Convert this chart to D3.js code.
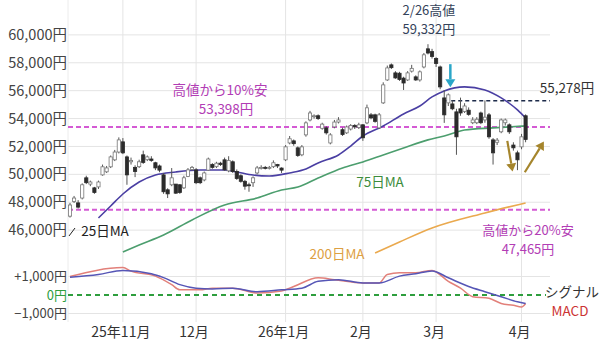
<!DOCTYPE html>
<html>
<head>
<meta charset="utf-8">
<script src="https://cdn.jsdelivr.net/npm/d3@7"></script>
<style>
  body { margin: 0; background: #fff; }
  svg { font-family: "Noto Sans CJK JP", "Noto Sans", sans-serif; }
</style>
</head>
<body>
<svg id="chart" width="600" height="343"></svg>
<script>
// trading days shown on the chart (Oct 2025 - Apr 2026)
const dates = [
  "10/15","10/16","10/17","10/20","10/21","10/22","10/23","10/24","10/27","10/28","10/29","10/30","10/31",
  "11/04","11/05","11/06","11/07","11/10","11/11","11/12","11/13","11/14","11/17","11/18","11/19","11/20","11/21","11/25","11/26","11/27","11/28",
  "12/01","12/02","12/03","12/04","12/05","12/08","12/09","12/10","12/11","12/12","12/15","12/16","12/17","12/18","12/19","12/22","12/23","12/24","12/25","12/26","12/29","12/30",
  "01/05","01/06","01/07","01/08","01/09","01/13","01/14","01/15","01/16","01/19","01/20","01/21","01/22","01/23","01/26","01/27","01/28","01/29","01/30",
  "02/02","02/03","02/04","02/05","02/06","02/09","02/10","02/12","02/13","02/16","02/17","02/18","02/19","02/20","02/24","02/25","02/26","02/27",
  "03/02","03/03","03/04","03/05","03/06","03/09","03/10","03/11","03/12","03/13","03/16","03/17","03/18","03/19","03/23","03/24","03/25","03/26","03/27","03/30","03/31",
  "04/01","04/02"
];

const open = [
  47000,48050,47950,48300,49750,49300,49030,49100,49960,50180,50540,51040,51600,
  52330,51250,50900,50500,50550,51400,51050,51100,50830,50600,49960,48890,49250,49300,49250,49030,49850,50350,
  50320,49750,49600,50300,50700,50550,50800,51040,50250,50900,50200,49900,49500,49250,49400,50100,50450,50500,50450,50550,50700,50450,
  51040,52250,52400,51900,51400,52830,53900,54150,54200,53300,53330,52250,53400,53750,53200,52975,53250,53500,53350,
  53550,53690,54265,54265,53330,55125,56770,57850,57275,57250,56900,56770,57400,56990,56770,57700,59000,58800,
  58300,57700,55480,55125,55050,54480,54700,54500,54600,53700,53700,54400,53900,54265,52470,52300,53050,53700,53550,52100,51540,
  51970,54200
];
const high = [
  47950,48450,48150,49350,49900,49550,49100,49550,50700,50600,51350,51750,52650,
  52600,51350,51200,50650,51050,51700,51350,51300,50900,50700,50100,49000,50450,49300,49300,49900,50450,50600,
  50450,49850,50200,51200,50800,50900,50900,51200,51300,51000,50350,50000,49600,49400,49850,50600,50650,50600,50600,51000,50750,50500,
  52100,52750,52500,52000,52100,53800,54550,54300,54300,53700,53450,52950,53900,54100,53350,53500,53600,53600,53700,
  53600,55000,54400,54350,54400,56600,57800,57950,57400,57350,57000,57400,57850,57100,57450,58700,59332,59000,
  58400,57800,56050,55800,55300,54700,55500,55100,54800,54100,54100,54500,55300,54400,52600,52600,54000,54000,53650,52300,51700,
  52900,54300
];
const low = [
  46900,47950,47550,48200,49300,49150,48600,48950,49900,50100,50450,50950,51500,
  51450,49250,50700,49800,50450,50750,50950,50900,50300,50150,48600,48300,49150,48600,48600,48950,49800,50250,
  49300,49300,49500,50250,50400,50450,50600,50250,50150,50100,49600,49400,48900,48750,49100,50000,50350,50350,50350,50450,50450,50100,
  50950,52150,52050,51250,51300,52700,53800,54000,53900,53200,52850,52150,53300,53650,52750,52900,53150,53250,53250,
  52400,53600,53950,53700,53250,55050,56700,57550,56850,56700,56050,56700,57300,56700,56650,57600,58600,58300,
  57700,56100,53690,54900,54600,51400,54200,54400,54200,53600,53600,53600,53700,52550,50700,52100,52950,53500,52900,51700,50300,
  51800,52300
];
const close = [
  47800,48300,47650,49250,49400,49450,48700,49450,50540,50460,51250,51600,52470,
  51540,49960,51000,50200,50900,50850,51250,51000,50460,50300,48750,48600,49750,48650,48700,49750,50320,50500,
  49400,49400,50100,51100,50500,50800,50700,50320,51000,50200,49700,49500,49150,49200,49750,50460,50500,50450,50500,50830,50600,50300,
  51970,52550,52200,51350,51970,53690,54400,54200,54000,53600,52975,52830,53750,53900,52850,53400,53500,53400,53550,
  52620,54770,54050,53800,54265,56415,57630,57650,56915,56800,56550,57275,57600,56770,57350,58570,58700,58450,
  57950,56270,54265,55700,54700,52690,54400,54900,54300,53900,53950,53700,54100,52690,51540,52450,53900,53900,53050,51900,51040,
  52690,52500
];

// moving averages
const ma25 = [
  ["10/24",46870],["10/29",47730],["11/04",48590],["11/10",49450],["11/14",49950],["11/21",50170],
  ["12/02",50310],["12/10",50310],["12/15",50170],["12/19",49950],["12/25",49880],["01/06",50100],
  ["01/13",50380],["01/16",50820],["01/23",51390],["01/28",52030],["02/02",52750],["02/09",53470],
  ["02/17",54330],["02/24",54900],["02/27",55550],["03/04",55980],["03/11",56270],["03/18",56050],
  ["03/25",55480],["03/31",54620],["04/02",54040]
];
const ma75 = [
  ["11/04",44430],["11/10",44930],["11/18",45650],["11/28",46730],["12/10",47800],["12/22",48300],
  ["12/30",48880],["01/08",49090],["01/16",49740],["01/26",50460],["02/02",50890],["02/09",51390],
  ["02/17",51890],["02/26",52470],["03/04",52750],["03/11",53180],["03/23",53330],["04/02",53470]
];
const ma200 = [
  ["02/05",44360],["02/16",45150],["02/27",46150],["03/18",47230],["04/02",47950]
];

// MACD panel
const macd = [
  ["10/15",1000],["11/04",1480],["11/06",1290],["11/14",1020],["11/20",560],["11/25",280],
  ["12/02",280],["12/05",370],["12/12",370],["12/22",110],["12/30",220],["01/07",460],
  ["01/16",930],["01/22",830],["02/02",650],["02/06",650],["02/10",1110],["02/16",1200],
  ["02/20",1200],["02/27",1330],["03/05",740],["03/10",370],["03/13",-90],["03/19",-180],
  ["03/25",-460],["03/30",-560],["04/01",-650],["04/02",-460]
];
const signal = [
  ["10/15",960],["10/24",1110],["11/04",1330],["11/13",1150],["11/18",940],["11/25",560],
  ["12/01",370],["12/05",330],["12/12",370],["12/22",180],["12/30",280],["01/09",370],
  ["01/16",740],["01/23",830],["02/02",650],["02/06",650],["02/16",1020],["02/20",1150],
  ["02/27",1300],["03/05",930],["03/12",460],["03/18",180],["03/25",-90],["03/31",-370],["04/02",-460]
];

const priceTicks = [46000, 48000, 50000, 52000, 54000, 56000, 58000, 60000];
const macdTicks = [1000, 0, -1000];
const monthTicks = [["11/04","25年11月"],["12/01","12月"],["01/05","26年1月"],["02/02","2月"],["03/02","3月"],["04/01","4月"]];

const high10 = 53398, high20 = 47465, level = 55278, peak = 59332;

const svg = d3.select("#chart");
const idx = d => dates.indexOf(d);
const fmt = d3.format(",");

const x = d3.scaleLinear().domain([0, dates.length - 1]).range([70, 525.6]);
const y = d3.scaleLinear().domain([44000, 62000]).range([258, 7]);
const ym = d3.scaleLinear().domain([-1000, 1000]).range([313.5, 276.5]);
const plotL = 68, plotR = 550;

// grid
svg.append("g").selectAll("line").data(priceTicks).join("line")
  .attr("x1", plotL).attr("x2", plotR)
  .attr("y1", d => y(d)).attr("y2", d => y(d))
  .attr("stroke", "#e4e4e4");
svg.append("g").selectAll("line").data([1000, -1000]).join("line")
  .attr("x1", plotL).attr("x2", plotR)
  .attr("y1", d => ym(d)).attr("y2", d => ym(d))
  .attr("stroke", "#e4e4e4");
svg.append("g").selectAll("line").data(monthTicks).join("line")
  .attr("x1", d => x(idx(d[0]))).attr("x2", d => x(idx(d[0])))
  .attr("y1", 0).attr("y2", 322)
  .attr("stroke", "#e4e4e4");
svg.append("line").attr("x1", plotL).attr("x2", plotL).attr("y1", 0).attr("y2", 322)
  .attr("stroke", "#ececec");

// y axis labels
svg.append("g").selectAll("text").data(priceTicks).join("text")
  .attr("x", 67).attr("y", d => y(d)).attr("dy", "0.35em")
  .attr("text-anchor", "end").attr("font-size", 14.5).attr("fill", "#444")
  .text(d => fmt(d) + "円");

svg.append("g").selectAll("text").data(macdTicks).join("text")
  .attr("x", 67).attr("y", d => ym(d)).attr("dy", "0.35em")
  .attr("text-anchor", "end").attr("font-size", 13)
  .attr("fill", d => d === 0 ? "#2e9e3e" : "#444")
  .text(d => (d > 0 ? "+" : "") + fmt(d) + "円");

// x labels
svg.append("g").selectAll("text").data(monthTicks).join("text")
  .attr("x", d => x(idx(d[0])) - 2).attr("y", 332).attr("dy", "0.35em")
  .attr("text-anchor", "middle").attr("font-size", 14).attr("fill", "#333")
  .text(d => d[1]);

svg.append("clipPath").attr("id", "clip")
  .append("rect").attr("x", plotL).attr("y", 0).attr("width", plotR - plotL).attr("height", 258);

const main = svg.append("g").attr("clip-path", "url(#clip)");

// reference lines
main.selectAll(".ref").data([high10, high20]).join("line")
  .attr("x1", plotL).attr("x2", plotR + 2)
  .attr("y1", d => y(d)).attr("y2", d => y(d))
  .attr("stroke", "#d45ad4").attr("stroke-width", 2).attr("stroke-dasharray", "5,3");

main.append("line")
  .attr("x1", x(idx("03/04"))).attr("x2", plotR + 2)
  .attr("y1", y(level)).attr("y2", y(level))
  .attr("stroke", "#1d2b4a").attr("stroke-width", 1.4).attr("stroke-dasharray", "4,3");

// moving averages
const maLine = d3.line().x(d => x(idx(d[0]))).y(d => y(d[1])).curve(d3.curveMonotoneX);
[[ma200, "#eaa94e"], [ma75, "#4c9e6e"], [ma25, "#4a3fa3"]].forEach(([data, color]) => {
  main.append("path").datum(data).attr("d", maLine)
    .attr("fill", "none").attr("stroke", color).attr("stroke-width", 1.6);
});

// candles
const candles = dates.map((d, i) => ({ i, o: open[i], h: high[i], l: low[i], c: close[i] }));
const cg = main.append("g");
cg.selectAll(".wick").data(candles).join("line")
  .attr("x1", d => x(d.i)).attr("x2", d => x(d.i))
  .attr("y1", d => y(d.h)).attr("y2", d => y(d.l))
  .attr("stroke", "#555").attr("stroke-width", 1);
cg.selectAll(".body").data(candles).join("rect")
  .attr("x", d => x(d.i) - 1.6).attr("width", 3.2)
  .attr("y", d => y(Math.max(d.o, d.c)))
  .attr("height", d => Math.max(1, Math.abs(y(d.o) - y(d.c))))
  .attr("fill", d => d.c >= d.o ? "#fff" : "#2b2b2b")
  .attr("stroke", d => d.c >= d.o ? "#777" : "#2b2b2b").attr("stroke-width", 0.8);

// arrows
function arrow(g, x1, y1, x2, y2, color, w) {
  const a = Math.atan2(y2 - y1, x2 - x1), L = 8, H = 5;
  const bx = x2 - L * Math.cos(a), by = y2 - L * Math.sin(a);
  g.append("line").attr("x1", x1).attr("y1", y1).attr("x2", bx).attr("y2", by)
    .attr("stroke", color).attr("stroke-width", w);
  g.append("path")
    .attr("d", `M${x2},${y2}L${bx + H * Math.sin(a)},${by - H * Math.cos(a)}L${bx - H * Math.sin(a)},${by + H * Math.cos(a)}Z`)
    .attr("fill", color);
}
const ag = svg.append("g");
arrow(ag, x(93.5), y(57900), x(93.5), y(56250), "#2aa6c8", 2.5);
arrow(ag, x(107.5), y(52400), x(108.8), y(50200), "#a5852c", 2.2);
arrow(ag, x(111.8), y(50150), x(116.5), y(52350), "#a5852c", 2.2);

// MACD panel
svg.append("line").attr("x1", plotL).attr("x2", plotR - 4)
  .attr("y1", ym(0)).attr("y2", ym(0))
  .attr("stroke", "#2e9e3e").attr("stroke-width", 2).attr("stroke-dasharray", "5,4");
const mLine = d3.line().x(d => x(idx(d[0]))).y(d => ym(d[1])).curve(d3.curveMonotoneX);
svg.append("path").datum(macd).attr("d", mLine)
  .attr("fill", "none").attr("stroke", "#e2807a").attr("stroke-width", 1.5);
svg.append("path").datum(signal).attr("d", mLine)
  .attr("fill", "none").attr("stroke", "#5656b6").attr("stroke-width", 1.5);

// annotations (two-line ones are one text with two tspans)
function label(tx, ty, lines, color, size, gap) {
  const t = svg.append("text").attr("text-anchor", "middle")
    .attr("font-size", size || 13.5).attr("fill", color);
  lines.forEach((s, k) => {
    t.append("tspan").attr("x", tx[k])
      .attr("y", ty + k * (gap || 19)).attr("dy", "0.35em").text(s);
  });
  return t;
}
const px = x(idx("02/26")) + 1;
label([px, px], 10, ["2/26高値", fmt(peak) + "円"], "#34435a", 13, 19);
label([567], 88, [fmt(level) + "円"], "#333");
label([220, 226], 90, ["高値から10%安", fmt(high10) + "円"], "#b23db5", 13.5, 19);
label([528, 528], 230, ["高値から20%安", fmt(high20) + "円"], "#b23db5", 13, 19);
label([380], 182, ["75日MA"], "#3c8c3c");
label([337], 254, ["200日MA"], "#dda043");
label([105], 231, ["25日MA"], "#222");
svg.append("line").attr("x1", 69).attr("y1", 236).attr("x2", 75).attr("y2", 228)
  .attr("stroke", "#222").attr("stroke-width", 1);
label([572, 570], 292, ["シグナル", "MACD"], "#333", 13.5, 19).select("tspan:last-child").attr("fill", "#cc3333");
</script>
</body>
</html>
